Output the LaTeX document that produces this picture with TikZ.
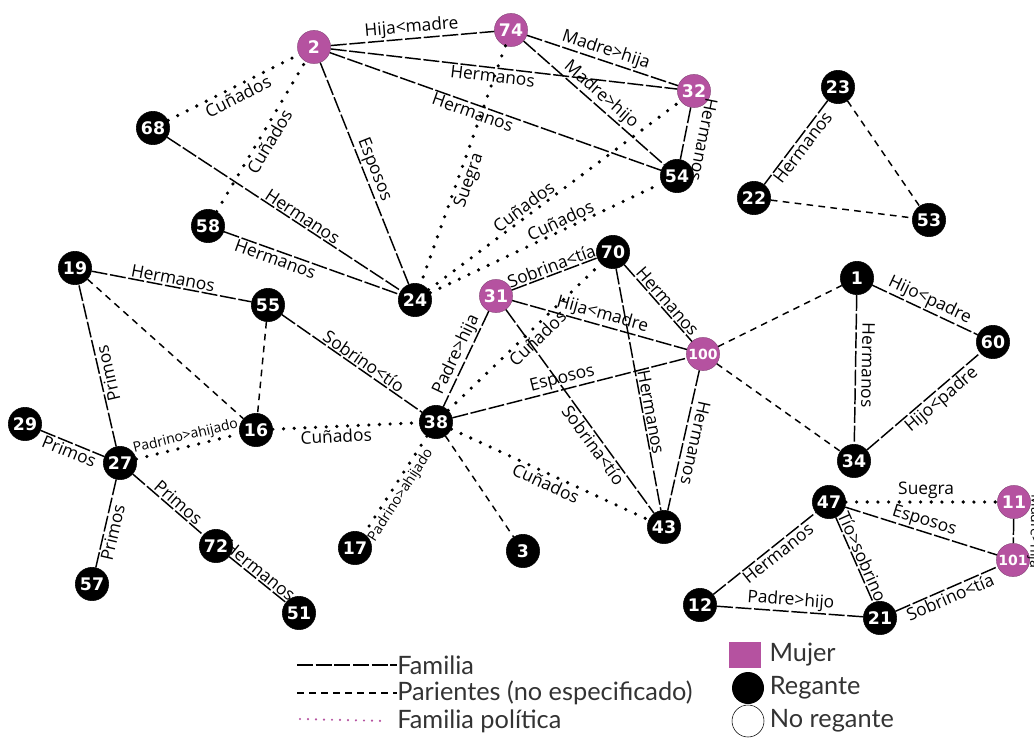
\documentclass[tikz,border=0pt]{standalone}
\usepackage{fontspec}
\setmainfont{Open Sans}
\newfontfamily\numfont{DejaVu Sans}
\newfontfamily\legfont{Lato}
\usetikzlibrary{positioning}
\definecolor{mujercol}{RGB}{181,82,160}
\tikzset{
	regante/.style={circle, fill=black, draw=black, text=white, inner sep=0pt,
		minimum size=25pt, font=\numfont\bfseries\fontsize{13}{13}\selectfont},
	mujer/.style={regante, fill=mujercol, draw=mujercol!60!black, very thin},
	tres/.style={font=\numfont\bfseries\fontsize{10.5}{10.5}\selectfont},
	familia/.style={line width=1.1pt, dash pattern=on 12pt off 2pt},
	parientes/.style={line width=1.1pt, dash pattern=on 5pt off 4pt},
	politica/.style={line width=2.7pt, line cap=round, dash pattern=on 0pt off 8pt},
	lab/.style={sloped, inner sep=1pt, font=\fontsize{13}{14}\selectfont},
	chico/.style={font=\fontsize{10.5}{11}\selectfont},
	leyenda/.style={inner sep=0pt, anchor=west, text=black!80,
		font=\legfont\fontsize{19}{21}\selectfont}
}
\begin{document}
\begin{tikzpicture}[x=0.75pt, y=-0.75pt]
	\useasboundingbox (0,0) rectangle (1034,738);

	% nodos
	\foreach \n/\x/\y in {68/153/128, 54/677/176, 23/838/87, 22/754/198, 53/929/220,
		58/208/226, 24/415/300, 19/75/268, 55/268/305, 70/613/252, 1/857/278,
		60/993/342, 29/25/424, 16/256/430, 38/436/422, 27/120/463, 34/854/461,
		47/829/502, 17/355/548, 3/523/551, 43/664/527, 72/216/546, 57/92/584,
		51/299/613, 12/700/605, 21/880/618}
		\node[regante] (n\n) at (\x,\y) {\n};
	\foreach \n/\x/\y in {2/314/47, 74/511/30, 32/694/91, 31/496/296, 11/1014/502}
		\node[mujer] (n\n) at (\x,\y) {\n};
	\node[mujer,tres] (n100) at (703,354) {100};
	\node[mujer,tres] (n101) at (1013,560) {101};

	% familia
	\draw[familia] (n2) -- node[lab,above] {Hija<madre} (n74);
	\draw[familia] (n74) -- node[lab,above] {Madre>hija} (n32);
	\draw[familia] (n2) -- node[lab,below,pos=.47] {Hermanos} (n32);
	\draw[familia] (n2) -- node[lab,below,pos=.44] {Hermanos} (n54);
	\draw[familia] (n74) -- node[lab,above] {Madre>hijo} (n54);
	\draw[familia] (n32) -- node[lab,above=8pt,allow upside down,pos=.55] {Hermanos} (n54);
	\draw[familia] (n2) -- node[lab,above] {Esposos} (n24);
	\draw[familia] (n68) -- node[lab,above,pos=.56] {Hermanos} (n24);
	\draw[familia] (n58) -- node[lab,below,pos=.31] {Hermanos} (n24);
	\draw[familia] (n23) -- node[lab,below] {Hermanos} (n22);
	\draw[familia] (n19) -- node[lab,above] {Hermanos} (n55);
	\draw[familia] (n27) -- node[lab,below,allow upside down,pos=.44] {Primos} (n19);
	\draw[familia] (n55) -- node[lab,above,pos=.55] {Sobrino<tío} (n38);
	\draw[familia] (n31) -- node[lab,above] {Padre>hija} (n38);
	\draw[familia] (n31) -- node[lab,above] {Sobrina<tía} (n70);
	\draw[familia] (n31) -- node[lab,above] {Hija<madre} (n100);
	\draw[familia] (n31) -- node[lab,below,pos=.64] {Sobrina<tío} (n43);
	\draw[familia] (n38) -- node[lab,above,pos=.48] {Esposos} (n100);
	\draw[familia] (n70) -- node[lab,above,pos=.55] {Hermanos} (n100);
	\draw[familia] (n70) -- node[lab,above,pos=.6] {Hermanos} (n43);
	\draw[familia] (n100) -- node[lab,above=3pt,allow upside down] {Hermanos} (n43);
	\draw[familia] (n1) -- node[lab,above] {Hijo<padre} (n60);
	\draw[familia] (n34) -- node[lab,below,pos=.6] {Hijo<padre} (n60);
	\draw[familia] (n1) -- node[lab,above=3pt,allow upside down,pos=.47] {Hermanos} (n34);
	\draw[familia] (n29) -- node[lab,below] {Primos} (n27);
	\draw[familia] (n27) -- node[lab,above,pos=.57] {Primos} (n72);
	\draw[familia] (n27) -- node[lab,below,pos=.58] {Primos} (n57);
	\draw[familia] (n72) -- node[lab,above,pos=.45] {Hermanos} (n51);
	\draw[familia] (n12) -- node[lab,below,pos=.58] {Hermanos} (n47);
	\draw[familia] (n47) -- node[lab,above,pos=.5] {Tío>sobrino} (n21);
	\draw[familia] (n47) -- node[lab,above] {Esposos} (n101);
	\draw[familia] (n12) -- node[lab,above] {Padre>hijo} (n21);
	\draw[familia] (n21) -- node[lab,below] {Sobrino<tía} (n101);
	\draw[familia] (n11) -- node[lab,chico,above=9pt,allow upside down] {Madre>hija} (n101);

	% parientes
	\draw[parientes] (n23) -- (n53);
	\draw[parientes] (n22) -- (n53);
	\draw[parientes] (n19) -- (n16);
	\draw[parientes] (n55) -- (n16);
	\draw[parientes] (n100) -- (n1);
	\draw[parientes] (n100) -- (n34);
	\draw[parientes] (n38) -- (n3);

	% familia politica
	\draw[politica] (n68) -- node[lab,below] {Cuñados} (n2);
	\draw[politica] (n58) -- node[lab,below] {Cuñados} (n2);
	\draw[politica] (n74) -- node[lab,below,pos=.55] {Suegra} (n24);
	\draw[politica] (n24) -- node[lab,above,pos=.4] {Cuñados} (n32);
	\draw[politica] (n24) -- node[lab,above,pos=.58] {Cuñados} (n54);
	\draw[politica] (n38) -- node[lab,below,pos=.54] {Cuñados} (n70);
	\draw[politica] (n16) -- node[lab,below,pos=.43] {Cuñados} (n38);
	\draw[politica] (n27) -- node[lab,chico,above] {Padrino>ahijado} (n16);
	\draw[politica] (n38) -- node[lab,chico,below,pos=.55] {Padrino>ahijado} (n17);
	\draw[politica] (n38) -- node[lab,below] {Cuñados} (n43);
	\draw[politica] (n47) -- node[lab,above,pos=.53] {Suegra} (n11);

	% leyenda
	\node[leyenda] (tfam) at (397,665) {Familia};
	\node[leyenda] (tpar) at (397,693) {Parientes (no especificado)};
	\node[leyenda] (tpol) at (397,721) {Familia política};
	\coordinate (lfam) at (297,665);
	\coordinate (lpar) at (297,693);
	\coordinate (lpol) at (300,719);
	\draw[familia] (lfam) -- (tfam);
	\draw[parientes] (lpar) -- (tpar);
	\draw[politica,mujercol,line width=1.8pt,dash pattern=on 0pt off 6pt] (lpol) -- ([xshift=-8pt]tpol.west);

	\node[fill=mujercol, minimum width=24pt, minimum height=20pt, inner sep=0pt] (cmuj) at (745,655) {};
	\node[circle, fill=black, minimum size=24pt, inner sep=0pt] (creg) at (748,688) {};
	\node[circle, draw=black, thin, minimum size=24pt, inner sep=0pt] (cnoreg) at (748,721) {};
	\node[leyenda, right=6pt of cmuj] (tmuj) {Mujer};
	\node[leyenda, right=4pt of creg] (treg) {Regante};
	\node[leyenda, right=4pt of cnoreg] (tnoreg) {No regante};
\end{tikzpicture}
\end{document}
